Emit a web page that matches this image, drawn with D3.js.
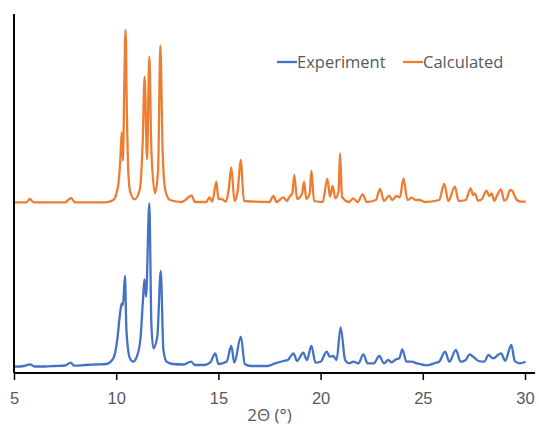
<!DOCTYPE html>
<html>
<head>
<meta charset="utf-8">
<script src="https://cdn.jsdelivr.net/npm/d3@7"></script>
<style>
  body { margin: 0; background: #fff; }
  svg { display: block; font-family: "Open Sans", "DejaVu Sans", sans-serif; }
  .tick text { fill: #595959; font-size: 16.5px; }
</style>
</head>
<body>
<div id="chart"></div>
<script>
// 2-theta positions and intensities (arbitrary units, calculated pattern stacked above)
var expX = [5.0, 5.5, 5.78, 6.0, 6.5, 7.0, 7.5, 7.77, 7.95, 8.5, 9.0, 9.5, 9.86, 10.05, 10.18, 10.27, 10.33, 10.43,
  10.5, 10.67, 10.83, 11.0, 11.18, 11.31, 11.38, 11.46, 11.62, 11.72, 11.82, 12.01, 12.18, 12.31, 12.47, 12.8,
  13.3, 13.66, 13.85, 14.3, 14.59, 14.85, 15.0, 15.4, 15.63, 15.78, 16.1, 16.29, 16.6, 17.0, 17.4, 17.77, 18.18,
  18.4, 18.67, 18.85, 19.15, 19.33, 19.55, 19.75, 20.0, 20.3, 20.45, 20.62, 20.78, 20.98, 21.2, 21.4, 21.6,
  21.85, 22.09, 22.3, 22.6, 22.87, 23.1, 23.31, 23.47, 23.7, 23.85, 24.0, 24.2, 24.46, 24.7, 25.2, 25.65, 25.8,
  26.09, 26.3, 26.62, 26.85, 27.1, 27.28, 27.52, 27.73, 28.0, 28.22, 28.43, 28.55, 28.67, 28.83, 29.03, 29.33,
  29.5, 29.75, 30.03];
var expY = [6.3, 7, 8.7, 6.5, 6.5, 7, 7.5, 10.3, 7.3, 8, 8.5, 9, 14.7, 33, 58, 69.7, 68, 97,
  43, 14.7, 11.3, 16, 33, 73, 93.7, 76.3, 169.7, 49.7, 24.7, 36.3, 102, 23, 11.3, 9,
  8.5, 11.3, 8, 8, 10.3, 19.7, 9, 11.3, 27, 10.3, 36.3, 9, 7, 7, 7, 9.7, 12,
  13, 19.7, 12, 20.3, 13, 27, 10.3, 11.3, 21.3, 16.3, 17, 13, 45.7, 13, 9.7, 11.3,
  9.7, 18.7, 9.7, 9.7, 17, 9.7, 13, 10.7, 13.7, 14.7, 23.7, 11.3, 11.3, 9.7, 7.7, 10.3, 11.3,
  21.3, 11.3, 23, 11.3, 13, 18.7, 15.3, 12, 11.3, 18, 14.7, 15.7, 18, 19.7, 12.3, 28,
  12, 9.7, 11.3];

var calcX = [5.0, 5.6, 5.78, 5.95, 7.5, 7.79, 7.98, 9.5, 9.86, 10.1, 10.2, 10.27, 10.33, 10.4, 10.46, 10.52,
  10.6, 10.7, 10.9, 11.15, 11.3, 11.39, 11.51, 11.62, 11.72, 11.9, 12.05, 12.16, 12.27, 12.4, 12.63, 13.2,
  13.69, 13.85, 14.4, 14.56, 14.7, 14.9, 15.0, 15.15, 15.37, 15.5, 15.63, 15.79, 15.95, 16.09, 16.25, 17.5,
  17.69, 17.85, 18.18, 18.35, 18.47, 18.62, 18.71, 18.85, 19.1, 19.19, 19.3, 19.47, 19.55, 19.68, 20.1, 20.33, 20.46, 20.59, 20.72,
  20.88, 20.95, 21.05, 21.4, 21.6, 21.8, 22.06, 22.25, 22.7, 22.91, 23.1, 23.35, 23.5, 23.72, 23.88, 24.05, 24.25,
  24.46, 24.65, 24.85, 25.1, 25.8, 26.05, 26.25, 26.57, 26.75, 27.1, 27.34, 27.46, 27.55, 27.7, 27.88, 28.12,
  28.25, 28.37, 28.5, 28.62, 28.83, 28.98, 29.1, 29.27, 29.37, 29.6, 29.8, 30.03];
var calcY = [170.7, 170.7, 174, 170.7, 170.7, 175, 170.7, 170.7, 173, 188, 213, 240.7, 212.3, 293, 343, 263,
  198, 180, 173.7, 183, 233, 296.3, 213.7, 316.3, 223, 179.7, 203, 327.3, 223, 183, 173, 171,
  177.3, 171, 171, 175.7, 171.5, 191.3, 174, 174, 171.3, 183, 205.7, 172, 183, 213, 172, 171,
  177, 171, 175.7, 172, 176, 180, 198, 174, 180, 191.3, 174, 180, 202, 172, 171, 194, 176.3, 187, 174.7,
  182, 219.7, 176, 171, 174.7, 171, 178.7, 171, 173, 184, 172, 177.3, 173, 177, 175.7, 194.7, 173,
  175.3, 173, 173, 171, 173, 189, 172, 186.3, 172, 173, 184.7, 178, 179.7, 172.3, 173.7, 182.3,
  177, 179.7, 172, 177, 183.7, 172.3, 173.7, 183, 182.3, 173, 171.3, 171.3];

var seriesNames = ["Experiment", "Calculated"];
var seriesColors = ["#4472C4", "#ED7D31"];
var xTicks = [5, 10, 15, 20, 25, 30];

var width = 539, height = 425;
var svg = d3.select("#chart").append("svg")
    .attr("width", width)
    .attr("height", height);

var x = d3.scaleLinear().domain([5, 30]).range([14, 525]);
var y = d3.scaleLinear().domain([0, 359]).range([373, 14]);

var line = d3.line()
    .x(function (d) { return x(d[0]); })
    .y(function (d) { return y(d[1]); })
    .curve(d3.curveMonotoneX);

var series = [d3.zip(expX, expY), d3.zip(calcX, calcY)];

svg.selectAll("path.trace")
    .data(series)
    .enter().append("path")
    .attr("class", "trace")
    .attr("fill", "none")
    .attr("stroke", function (d, i) { return seriesColors[i]; })
    .attr("stroke-width", 2.3)
    .attr("stroke-linejoin", "round")
    .attr("d", line);

// axes
var xAxis = d3.axisBottom(x).tickValues(xTicks).tickSize(7).tickSizeOuter(0).tickPadding(12);
var gx = svg.append("g")
    .attr("transform", "translate(0," + y(0) + ")")
    .call(xAxis);
gx.select(".domain").remove();
gx.selectAll(".tick line").attr("stroke", "#000").attr("stroke-width", 1.5);
gx.append("line")
    .attr("x1", x(5)).attr("x2", x(30) + 10)
    .attr("stroke", "#000").attr("stroke-width", 2);

svg.append("line")
    .attr("x1", x(5)).attr("x2", x(5))
    .attr("y1", y(0)).attr("y2", y(359))
    .attr("stroke", "#000").attr("stroke-width", 2);

svg.append("text")
    .attr("x", (x(5) + x(30)) / 2)
    .attr("y", 421)
    .attr("text-anchor", "middle")
    .attr("fill", "#595959")
    .style("font-size", "17px")
    .text("2Θ (°)");

// legend
var legendX = [277, 403];
var legend = svg.selectAll("g.legend")
    .data(seriesNames)
    .enter().append("g")
    .attr("class", "legend")
    .attr("transform", function (d, i) { return "translate(" + legendX[i] + ",62)"; });
legend.append("line")
    .attr("x1", 0).attr("x2", 20)
    .attr("stroke", function (d, i) { return seriesColors[i]; })
    .attr("stroke-width", 2.3);
legend.append("text")
    .attr("x", 20)
    .attr("y", 6)
    .attr("fill", "#595959")
    .style("font-size", "16.5px")
    .text(function (d) { return d; });
</script>
</body>
</html>
